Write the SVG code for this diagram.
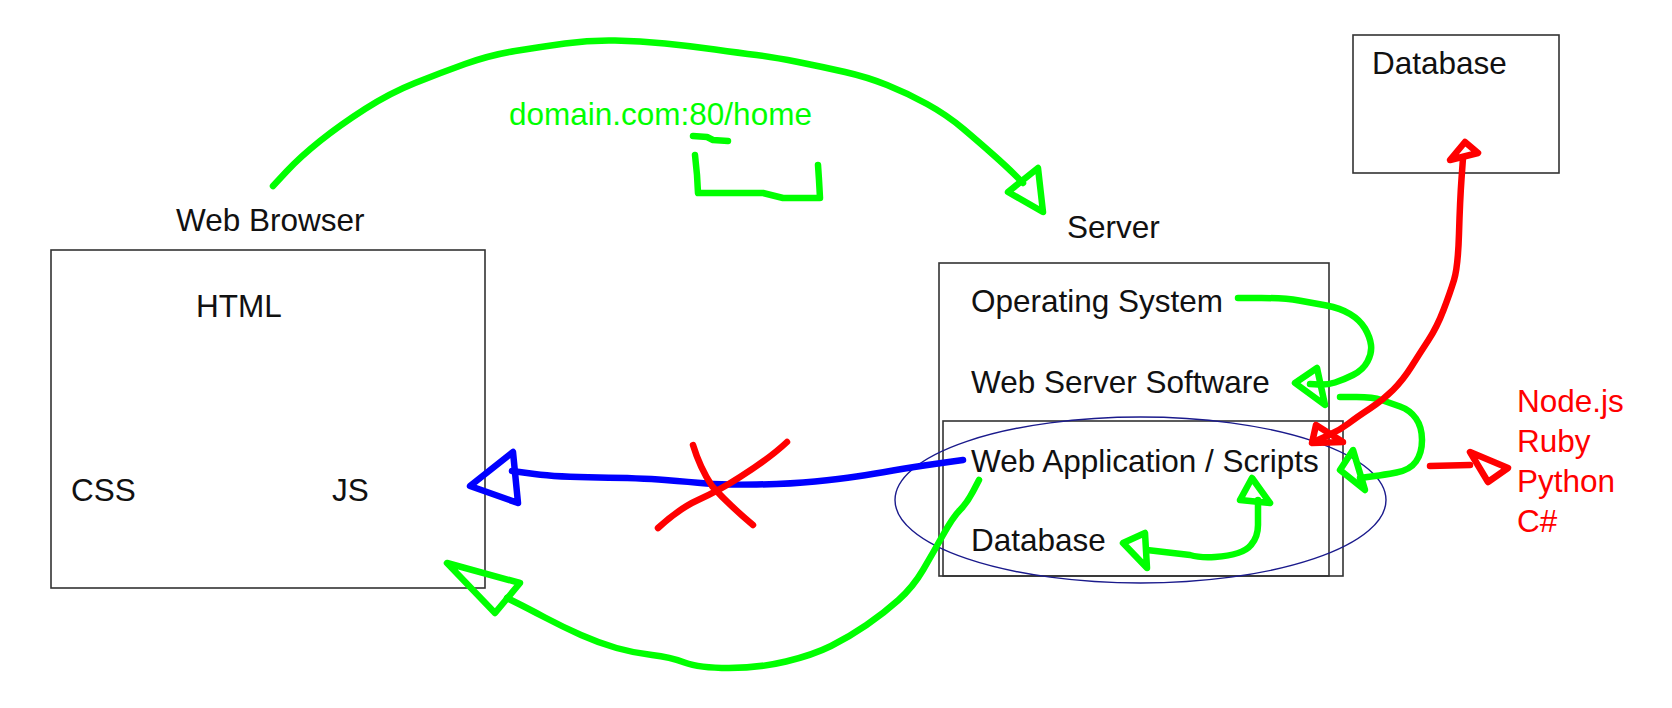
<svg xmlns="http://www.w3.org/2000/svg" width="1672" height="708" viewBox="0 0 1672 708">
<style>
text{font-family:"Liberation Sans",Arial,sans-serif;font-size:31.5px;fill:#111}
.box{fill:none;stroke:#333;stroke-width:1.6}
.g{fill:none;stroke:#00ff00;stroke-width:6.5;stroke-linecap:round;stroke-linejoin:round}
.b{fill:none;stroke:#0000ff;stroke-width:6.5;stroke-linecap:round;stroke-linejoin:round}
.r{fill:none;stroke:#ff0000;stroke-width:6.5;stroke-linecap:round;stroke-linejoin:round}
.red{fill:#ff0000}
.green{fill:#00ff00}
</style>
<rect width="1672" height="708" fill="#fff"/>
<g id="browser">
<rect class="box" x="51" y="250" width="434" height="338"/>
<text x="176" y="231">Web Browser</text>
<text x="196" y="317">HTML</text>
<text x="71" y="501">CSS</text>
<text x="332" y="501">JS</text>
</g>
<g id="server">
<rect class="box" x="939" y="263" width="390" height="313"/>
<rect class="box" x="943" y="421" width="400" height="155"/>
<text x="1067" y="238">Server</text>
<text x="971" y="312">Operating System</text>
<text x="971" y="393">Web Server Software</text>
<text x="971" y="472">Web Application / Scripts</text>
<text x="971" y="551">Database</text>
<ellipse cx="1140.5" cy="500" rx="245.5" ry="83" fill="none" stroke="#1a1a8c" stroke-width="1.4"/>
</g>
<g id="database">
<rect class="box" x="1353" y="35" width="206" height="138"/>
<text x="1372" y="74">Database</text>
</g>
<g id="languages">
<text class="red" x="1517" y="412">Node.js</text>
<text class="red" x="1517" y="452">Ruby</text>
<text class="red" x="1517" y="492">Python</text>
<text class="red" x="1517" y="532">C#</text>
</g>
<g id="url">
<text class="green" x="509" y="125">domain.com:80/home</text>
</g>
<g id="connectors">
<path class="g" d="M273,186 L286.5,171.5 Q300,157 320,141 Q340,125 365,109 Q390,93 415,83 Q440,73 465,64 Q490,55 515,51 Q540,47 565,43.5 Q590,40 615,40.5 Q640,41 665,43.5 Q690,46 715,49.5 Q740,53 756.5,55 Q773,57 798,62 Q823,67 845,72 Q867,77 887,85 Q907,93 927,104 Q947,115 963.5,129 Q980,143 993.5,155 Q1007,167 1015,175 L1023,183"/>
<polygon class="g" points="1008,192 1038,168 1043,212"/>
<polyline class="g" points="693,136 707,137 713,140 728,141"/>
<polyline class="g" points="695,155 697,175 698,193 740,193 763,193 783,198 820,198 819,180 818,165"/>
<path class="g" d="M1238,298 L1261.5,298 Q1285,298 1299,300.5 Q1313,303 1326.5,305.5 Q1340,308 1350,314 Q1360,320 1365,328.5 Q1370,337 1371,345 Q1372,353 1367.5,361.5 Q1363,370 1353,375 Q1343,380 1335,382.5 Q1327,385 1318.5,384.5 L1310,384"/>
<polygon class="g" points="1295,383 1317,368 1325,405"/>
<path class="g" d="M1340,397 L1356.5,397 Q1373,397 1381.5,400 Q1390,403 1400,406.5 Q1410,410 1416,418.5 Q1422,427 1422,440 Q1422,453 1416,461.5 Q1410,470 1396.5,472.5 Q1383,475 1375,476 L1360,478"/>
<polygon class="g" points="1353,450 1340,470 1365,490"/>
<path class="r" d="M1463,158 L1461.5,179 Q1460,200 1459,233.5 Q1458,267 1454,280 Q1450,293 1443.5,310 Q1437,327 1428.5,340 Q1420,353 1411.5,366.5 Q1403,380 1393,390 Q1383,400 1370,408.5 Q1357,417 1348.5,423.5 Q1340,430 1329,435 L1318,440"/>
<polygon class="r" points="1450,160 1465,142 1478,153"/>
<polygon class="r" points="1316,425 1312,443 1343,442"/>
<polyline class="r" points="1430,466 1470,465"/>
<polygon class="r" points="1470,452 1508,468 1488,482"/>
<path class="b" d="M963,460 L938,463.5 Q913,467 893,470.5 Q873,474 856.5,476.5 Q840,479 815,481.5 Q790,484 756.5,484.5 Q723,485 706.5,483.5 Q690,482 665,480 Q640,478 598.5,477.5 Q557,477 534.5,474 L512,471"/>
<polygon class="b" points="470,486 513,452 518,503"/>
<path class="r" d="M693,445 Q700,468 712,486 Q728,504 753,525"/>
<path class="r" d="M787,442 Q770,458 740,477 Q720,490 698,500 Q680,508 658,528"/>
<path class="g" d="M1258,500 L1258,525 Q1258,537 1251,545 Q1243,555 1215,557 Q1200,558 1190,555 L1147,550"/>
<polygon class="g" points="1123,543 1145,533 1147,568"/>
<polygon class="g" points="1240,500 1252,478 1270,503"/>
<path class="g" d="M979,480 L973,491.5 Q967,503 960,510 Q953,517 943,535 Q933,553 923,570 Q913,587 898.5,600 Q884,613 866.5,625 Q849,637 831,646 Q813,655 786,661.5 Q759,668 729,668 Q699,668 684.5,662.5 Q670,657 652,655 Q634,653 616.5,648 Q599,643 581,635 Q563,627 545,617.5 Q527,608 517,603 L507,598"/>
<polygon class="g" points="447,563 520,583 495,613"/>
</g>
</svg>
